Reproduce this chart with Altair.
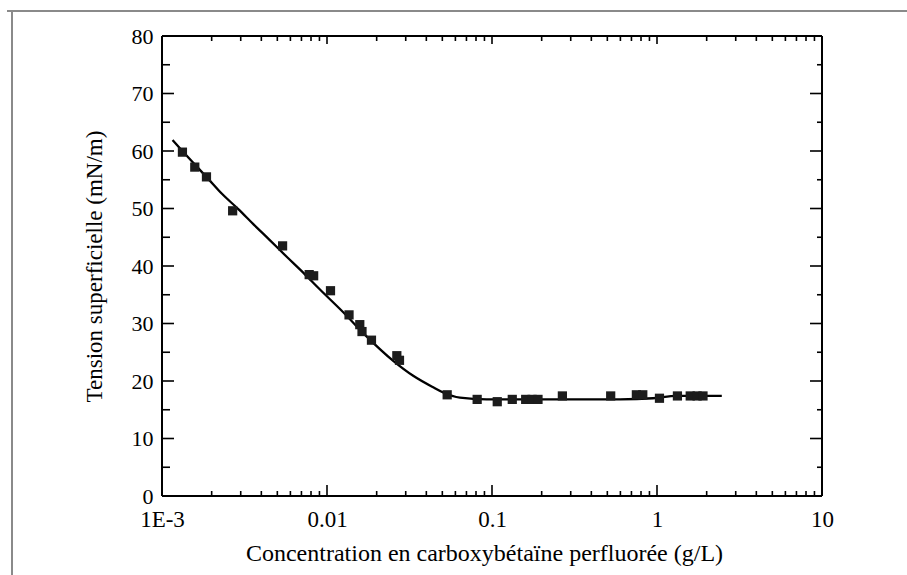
import altair as alt
import pandas as pd

# Measured points (concentration g/L, surface tension mN/m)
conc_pts = [0.00133, 0.00158, 0.00186, 0.00268, 0.00538, 0.0078, 0.0083, 0.0105,
            0.0136, 0.0158, 0.0163, 0.0186, 0.0265, 0.0275, 0.0535, 0.0813, 0.1076,
            0.1327, 0.160, 0.175, 0.19, 0.267, 0.524, 0.75, 0.82, 1.035, 1.33,
            1.59, 1.75, 1.90]
tension_pts = [59.8, 57.2, 55.5, 49.6, 43.5, 38.5, 38.3, 35.7,
               31.5, 29.8, 28.6, 27.1, 24.4, 23.6, 17.6, 16.8, 16.4,
               16.8, 16.8, 16.8, 16.8, 17.4, 17.4, 17.6, 17.6, 17.0, 17.4,
               17.4, 17.4, 17.4]

# Fitted curve
fit_conc = [0.00116, 0.0013, 0.0016, 0.0019, 0.0023, 0.0029, 0.0036, 0.0045,
            0.0057, 0.0072, 0.0090, 0.0125, 0.0173, 0.0252, 0.0333, 0.044,
            0.0506, 0.0639, 0.0927, 0.147, 0.597, 0.946, 1.32, 2.47]
fit_tension = [61.9, 60.3, 57.5, 55.2, 52.6, 49.9, 47.2, 44.5,
               41.6, 38.8, 36.0, 32.0, 27.8, 23.5, 20.9, 18.9,
               18.0, 17.1, 16.8, 16.8, 16.8, 17.0, 17.4, 17.4]

# Axis tick values
y_major = [0, 10, 20, 30, 40, 50, 60, 70, 80]
y_minor = [5, 15, 25, 35, 45, 55, 65, 75]
x_major = [0.001, 0.01, 0.1, 1, 10]
x_minor = [m * d for d in [0.001, 0.01, 0.1, 1] for m in range(2, 10)]

W, H = 660, 460
FONT = "Liberation Serif"

xscale = alt.Scale(type="log", domain=[0.001, 10], nice=False)
yscale = alt.Scale(domain=[0, 80], nice=False, zero=False)

x_axis = alt.Axis(values=x_major, format="~g",
                  labelExpr="datum.value < 0.002 ? '1E-3' : datum.label",
                  title="Concentration en carboxybétaïne perfluorée (g/L)",
                  ticks=False, tickSize=0, domain=False, grid=False,
                  labelFontSize=23, labelPadding=12, labelFlush=False,
                  labelColor="black", titleColor="black",
                  titleFontSize=24, titlePadding=10, titleX=322)
y_axis = alt.Axis(values=y_major, title="Tension superficielle (mN/m)",
                  ticks=False, tickSize=0, domain=False, grid=False,
                  labelFontSize=22, labelPadding=9, labelFlush=False,
                  labelColor="black", titleColor="black",
                  titleFontSize=23, titlePadding=25)

pts = pd.DataFrame({"c": conc_pts, "t": tension_pts})
fit = pd.DataFrame({"c": fit_conc, "t": fit_tension})

X = alt.X("c:Q", scale=xscale, axis=x_axis)
Y = alt.Y("t:Q", scale=yscale, axis=y_axis)

line = alt.Chart(fit).mark_line(color="black", strokeWidth=2.3,
                                interpolate="monotone").encode(x=X, y=Y)
points = alt.Chart(pts).mark_point(shape="square", filled=True, size=85,
                                   color="#1c1c1c", opacity=1).encode(x=X, y=Y)


def yticks(vals, x0, x1):
    return alt.Chart(pd.DataFrame({"t": vals})).mark_rule(
        color="black", strokeWidth=1.6).encode(
        y=Y, x=alt.value(x0), x2=alt.value(x1))


def xticks(vals, y0, y1):
    return alt.Chart(pd.DataFrame({"c": vals})).mark_rule(
        color="black", strokeWidth=1.6).encode(
        x=X, y=alt.value(y0), y2=alt.value(y1))


ticks = [
    yticks(y_major, 0, 12), yticks(y_minor, 0, 8),
    yticks(y_major, W, W - 12), yticks(y_minor, W, W - 5),
    xticks(x_major, H, H - 11), xticks(x_minor, H, H - 5),
    xticks(x_major, 0, 8), xticks(x_minor, 0, 5),
]

one = alt.Data(values=[{}])


def vrule(xv, y0, y1, color, w):
    return alt.Chart(one).mark_rule(color=color, strokeWidth=w).encode(
        x=alt.value(xv), y=alt.value(y0), y2=alt.value(y1))


def hrule(yv, x0, x1, color, w):
    return alt.Chart(one).mark_rule(color=color, strokeWidth=w).encode(
        y=alt.value(yv), x=alt.value(x0), x2=alt.value(x1))


decor = [
    vrule(-150, -26, 575 - 36, "#8a8a8a", 2),
    hrule(-25, -155, 907 - 162, "#8a8a8a", 2),
    vrule(0, 0, H, "black", 2), vrule(W, 0, H, "black", 2),
    hrule(0, 0, W, "black", 2), hrule(H, 0, W, "black", 2),
]

chart = alt.layer(*decor, *ticks, line, points).properties(
    width=W, height=H,
    autosize=alt.AutoSizeParams(type="none"),
    padding={"left": 162, "top": 36, "right": 85, "bottom": 79},
).configure(
    background="white", font=FONT
).configure_axis(
    labelFont=FONT, titleFont=FONT, labelColor="black", titleColor="black",
    titleFontWeight="normal"
).configure_view(strokeWidth=0)

chart.save("out.html", embed_options={"renderer": "svg", "actions": False})
